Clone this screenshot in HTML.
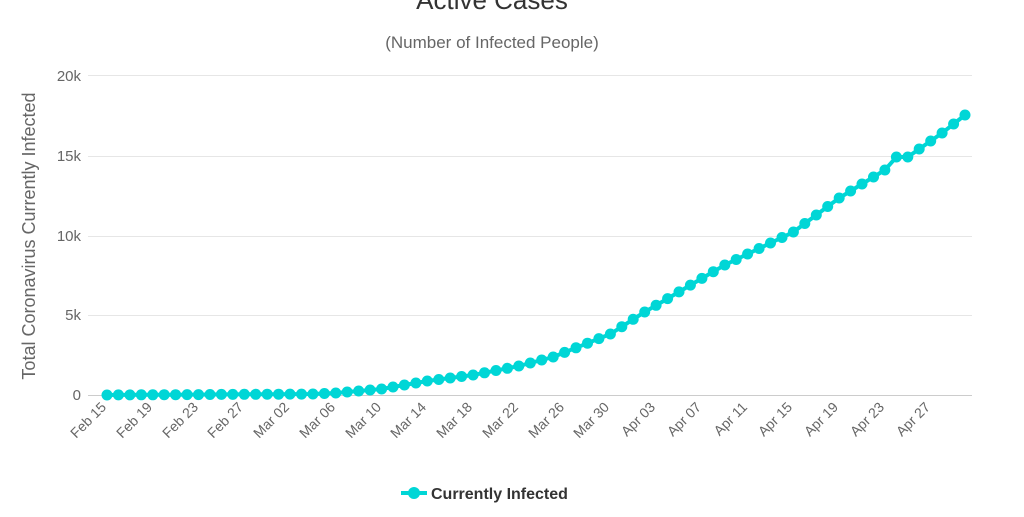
<!DOCTYPE html>
<html><head><meta charset="utf-8"><style>
body{margin:0;background:#fff;width:1024px;height:512px;overflow:hidden;font-family:"Liberation Sans",sans-serif}
</style></head><body>
<svg id="s" width="1024" height="512" xmlns="http://www.w3.org/2000/svg" font-family="Liberation Sans, sans-serif">
<text x="492" y="9" text-anchor="middle" font-size="26" fill="#333">Active Cases</text>
<text x="492" y="48" text-anchor="middle" font-size="17" fill="#666">(Number of Infected People)</text>
<g stroke="#e6e6e6" stroke-width="1">
<line x1="88" x2="972" y1="75.5" y2="75.5"/>
<line x1="88" x2="972" y1="156.5" y2="156.5"/>
<line x1="88" x2="972" y1="236.5" y2="236.5"/>
<line x1="88" x2="972" y1="315.5" y2="315.5"/>
<line x1="88" x2="972" y1="395.5" y2="395.5" stroke="#ccc"/>
</g>
<g font-size="15" fill="#666" text-anchor="end">
<text x="81" y="81">20k</text><text x="81" y="161">15k</text><text x="81" y="241">10k</text><text x="81" y="320">5k</text><text x="81" y="400">0</text>
</g>
<text transform="translate(35,236) rotate(-90)" text-anchor="middle" font-size="18" fill="#666">Total Coronavirus Currently Infected</text>
<g font-size="14" fill="#666" text-anchor="end">
<text transform="translate(107,408) rotate(-45)">Feb 15</text>
<text transform="translate(153,408) rotate(-45)">Feb 19</text>
<text transform="translate(199,408) rotate(-45)">Feb 23</text>
<text transform="translate(244,408) rotate(-45)">Feb 27</text>
<text transform="translate(290,408) rotate(-45)">Mar 02</text>
<text transform="translate(336,408) rotate(-45)">Mar 06</text>
<text transform="translate(382,408) rotate(-45)">Mar 10</text>
<text transform="translate(427,408) rotate(-45)">Mar 14</text>
<text transform="translate(473,408) rotate(-45)">Mar 18</text>
<text transform="translate(519,408) rotate(-45)">Mar 22</text>
<text transform="translate(565,408) rotate(-45)">Mar 26</text>
<text transform="translate(610,408) rotate(-45)">Mar 30</text>
<text transform="translate(656,408) rotate(-45)">Apr 03</text>
<text transform="translate(702,408) rotate(-45)">Apr 07</text>
<text transform="translate(748,408) rotate(-45)">Apr 11</text>
<text transform="translate(793,408) rotate(-45)">Apr 15</text>
<text transform="translate(839,408) rotate(-45)">Apr 19</text>
<text transform="translate(885,408) rotate(-45)">Apr 23</text>
<text transform="translate(931,408) rotate(-45)">Apr 27</text>
</g>
<g id="ser"></g>
<line x1="401" x2="427" y1="493" y2="493" stroke="#00d6d6" stroke-width="4"/>
<circle cx="414" cy="493" r="6" fill="#00d6d6"/>
<text x="431" y="499" font-size="16" font-weight="bold" fill="#333">Currently Infected</text>
</svg>
<script>
var k=[[0,395],[18,394],[20,393],[24,389],[28,381],[32,375],[36,366],[39,357],[44,334],[47,312],[54,265],[60,232],[64,198],[68,170],[69,157],[70,157],[73,133],[75,115]];
function yv(d){for(var i=0;i<k.length-1;i++){if(d>=k[i][0]&&d<=k[i+1][0]){var t=(d-k[i][0])/(k[i+1][0]-k[i][0]);return k[i][1]+t*(k[i+1][1]-k[i][1]);}}return 115;}
var g=document.getElementById('ser'),pts=[],c='';
for(var d=0;d<=75;d++){var x=107+11.44*d,y=yv(d);pts.push(x.toFixed(1)+','+y.toFixed(1));c+='<circle cx="'+x.toFixed(1)+'" cy="'+y.toFixed(1)+'" r="5.5" fill="#00d6d6"/>';}
g.innerHTML='<polyline points="'+pts.join(' ')+'" fill="none" stroke="#00d6d6" stroke-width="4"/>'+c;
</script>
</body></html>
